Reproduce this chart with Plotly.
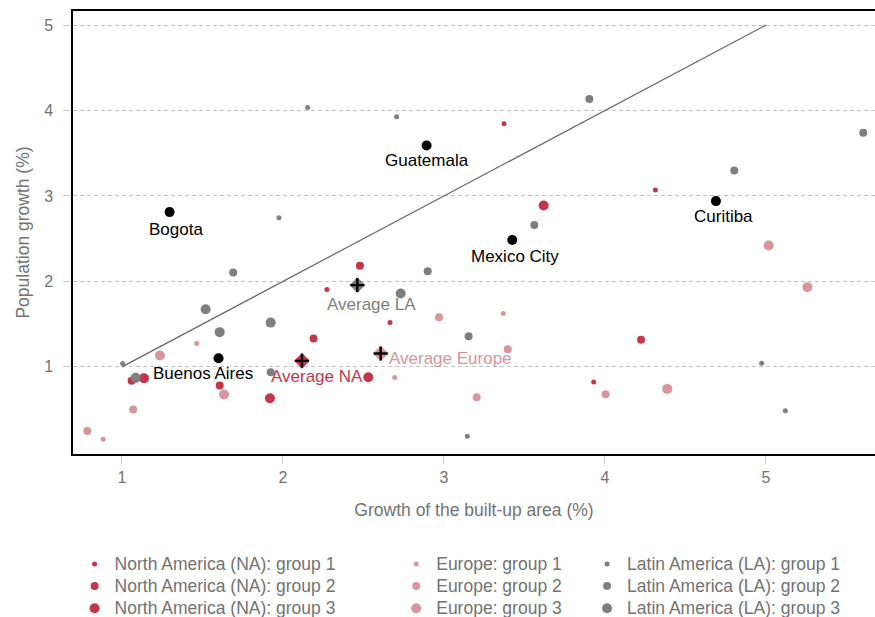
import plotly.graph_objects as go

# ---------------- data ----------------
na_g1_x = [3.373, 4.313, 2.273, 2.665, 3.930]
na_g1_y = [3.845, 3.069, 1.905, 1.519, 0.824]
na_g2_x = [2.478, 2.190, 4.224, 1.060, 1.607]
na_g2_y = [2.183, 1.331, 1.316, 0.836, 0.781]
na_g3_x = [3.619, 1.137, 1.919, 2.530]
na_g3_y = [2.889, 0.867, 0.633, 0.879]

eu_g1_x = [3.368, 1.464, 2.694, 0.884]
eu_g1_y = [1.624, 1.273, 0.875, 0.152]
eu_g2_x = [3.396, 4.004, 2.969, 1.070, 3.203, 0.785]
eu_g2_y = [1.207, 0.680, 1.582, 0.500, 0.645, 0.250]
eu_g3_x = [4.387, 5.017, 5.257, 1.236, 1.634]
eu_g3_y = [0.742, 2.420, 1.933, 1.132, 0.676]

la_g1_x = [2.153, 2.706, 1.975, 1.004, 4.973, 5.120, 3.145]
la_g1_y = [4.036, 3.927, 2.745, 1.039, 1.043, 0.485, 0.189]
la_g2_x = [3.903, 5.604, 4.803, 3.561, 1.691, 2.899, 3.153, 1.924]
la_g2_y = [4.135, 3.740, 3.299, 2.659, 2.104, 2.120, 1.358, 0.937]
la_g3_x = [2.731, 1.520, 1.607, 1.924, 1.085]
la_g3_y = [1.858, 1.675, 1.406, 1.518, 0.871]

city_names = ["Guatemala", "Bogota", "Mexico City", "Curitiba", "Buenos Aires"]
city_x = [2.892, 1.296, 3.424, 4.689, 1.600]
city_y = [3.591, 2.811, 2.484, 2.940, 1.100]

avg_names = ["Average LA", "Average NA", "Average Europe"]
avg_x = [2.462, 2.118, 2.607]
avg_y = [1.957, 1.070, 1.156]

trend_x = [1, 5]
trend_y = [1, 5]

x_ticks = [1, 2, 3, 4, 5]
y_ticks = [1, 2, 3, 4, 5]

# ---------------- styles ----------------
RED = "#c4374b"
PINK = "#d6969b"
GRAY = "#7f7f7f"
TXT = "#737373"
FONT = "Liberation Sans, Arial, sans-serif"
SIZES = {1: 5, 2: 8, 3: 10}

fig = go.Figure()

fig.add_trace(go.Scatter(x=trend_x, y=trend_y, mode="lines",
                         line=dict(color="#666666", width=1.2),
                         showlegend=False, hoverinfo="skip"))

series = [
    ("North America (NA): group 1", na_g1_x, na_g1_y, RED, 1, "legend"),
    ("North America (NA): group 2", na_g2_x, na_g2_y, RED, 2, "legend"),
    ("North America (NA): group 3", na_g3_x, na_g3_y, RED, 3, "legend"),
    ("Europe: group 1", eu_g1_x, eu_g1_y, PINK, 1, "legend2"),
    ("Europe: group 2", eu_g2_x, eu_g2_y, PINK, 2, "legend2"),
    ("Europe: group 3", eu_g3_x, eu_g3_y, PINK, 3, "legend2"),
    ("Latin America (LA): group 1", la_g1_x, la_g1_y, GRAY, 1, "legend3"),
    ("Latin America (LA): group 2", la_g2_x, la_g2_y, GRAY, 2, "legend3"),
    ("Latin America (LA): group 3", la_g3_x, la_g3_y, GRAY, 3, "legend3"),
]
for name, xs, ys, col, g, lg in series:
    fig.add_trace(go.Scatter(x=xs, y=ys, mode="markers",
                             name="<span style='font-size:17.5px'>" + name + "</span>",
                             marker=dict(color=col, size=SIZES[g], line=dict(width=0)),
                             legend=lg))

fig.add_trace(go.Scatter(x=city_x, y=city_y, mode="markers",
                         marker=dict(color="black", size=10, line=dict(width=0)),
                         showlegend=False))

avg_cols = [GRAY, RED, PINK]
fig.add_trace(go.Scatter(x=avg_x, y=avg_y, mode="markers",
                         marker=dict(color=avg_cols, size=12, symbol="diamond", line=dict(width=0)),
                         showlegend=False))
fig.add_trace(go.Scatter(x=avg_x, y=avg_y, mode="markers",
                         marker=dict(color="black", size=10, symbol="cross-thin",
                                     line=dict(width=2.4, color="black")),
                         showlegend=False))

# city labels
city_shift = [(0, -15), (6, -17), (3, -16), (8, -15), (-16, -15)]
for n, x, y, (dx, dy) in zip(city_names, city_x, city_y, city_shift):
    fig.add_annotation(x=x, y=y, text=n, showarrow=False, xshift=dx, yshift=dy,
                       xanchor="center", yanchor="middle",
                       font=dict(family=FONT, size=17, color="black"))

avg_shift = [(14, -19, "center"), (15, -16, "center"), (6, -5, "left")]
for n, x, y, c, (dx, dy, xa) in zip(avg_names, avg_x, avg_y, avg_cols, avg_shift):
    fig.add_annotation(x=x, y=y, text=n, showarrow=False, xshift=dx, yshift=dy,
                       xanchor=xa, yanchor="middle",
                       font=dict(family=FONT, size=17, color=c))

legend_common = dict(orientation="v", yanchor="top", y=-0.212, xanchor="left",
                     font=dict(family=FONT, size=14.7, color=TXT),
                     bgcolor="rgba(0,0,0,0)", borderwidth=0, itemclick=False,
                     tracegroupgap=0)

fig.update_layout(
    width=890, height=617,
    margin=dict(l=73, r=15, t=11, b=163, autoexpand=False),
    paper_bgcolor="white", plot_bgcolor="white",
    font=dict(family=FONT, size=16, color=TXT),
    legend=dict(legend_common, x=0.002),
    legend2=dict(legend_common, x=0.403),
    legend3=dict(legend_common, x=0.641),
    xaxis=dict(range=[0.696, 5.677], tickvals=x_ticks, ticktext=[str(v) for v in x_ticks],
               showgrid=False, zeroline=False,
               showline=True, linecolor="black", linewidth=1.5, mirror=True,
               ticks="outside", ticklen=8, tickcolor="#cccccc", tickwidth=1,
               ticklabelstandoff=0,
               tickfont=dict(size=16, color=TXT),
               title=dict(text="Growth of the built-up area (%)", font=dict(size=17.5, color=TXT),
                          standoff=19)),
    yaxis=dict(range=[-0.02, 5.165], tickvals=y_ticks, ticktext=[str(v) for v in y_ticks],
               showgrid=True, gridcolor="#c2c2c2", griddash="4px,3px", gridwidth=1,
               zeroline=False,
               showline=True, linecolor="black", linewidth=1.5, mirror=False,
               ticks="outside", ticklen=8, tickcolor="#cccccc", tickwidth=1,
               ticklabelstandoff=7,
               tickfont=dict(size=16, color=TXT),
               title=dict(text="Population growth (%)", font=dict(size=17.5, color=TXT),
                          standoff=10)),
)

fig.write_html("out.html", config={"displayModeBar": False},
               post_script="document.body.style.margin='0';document.body.style.overflow='hidden';")
